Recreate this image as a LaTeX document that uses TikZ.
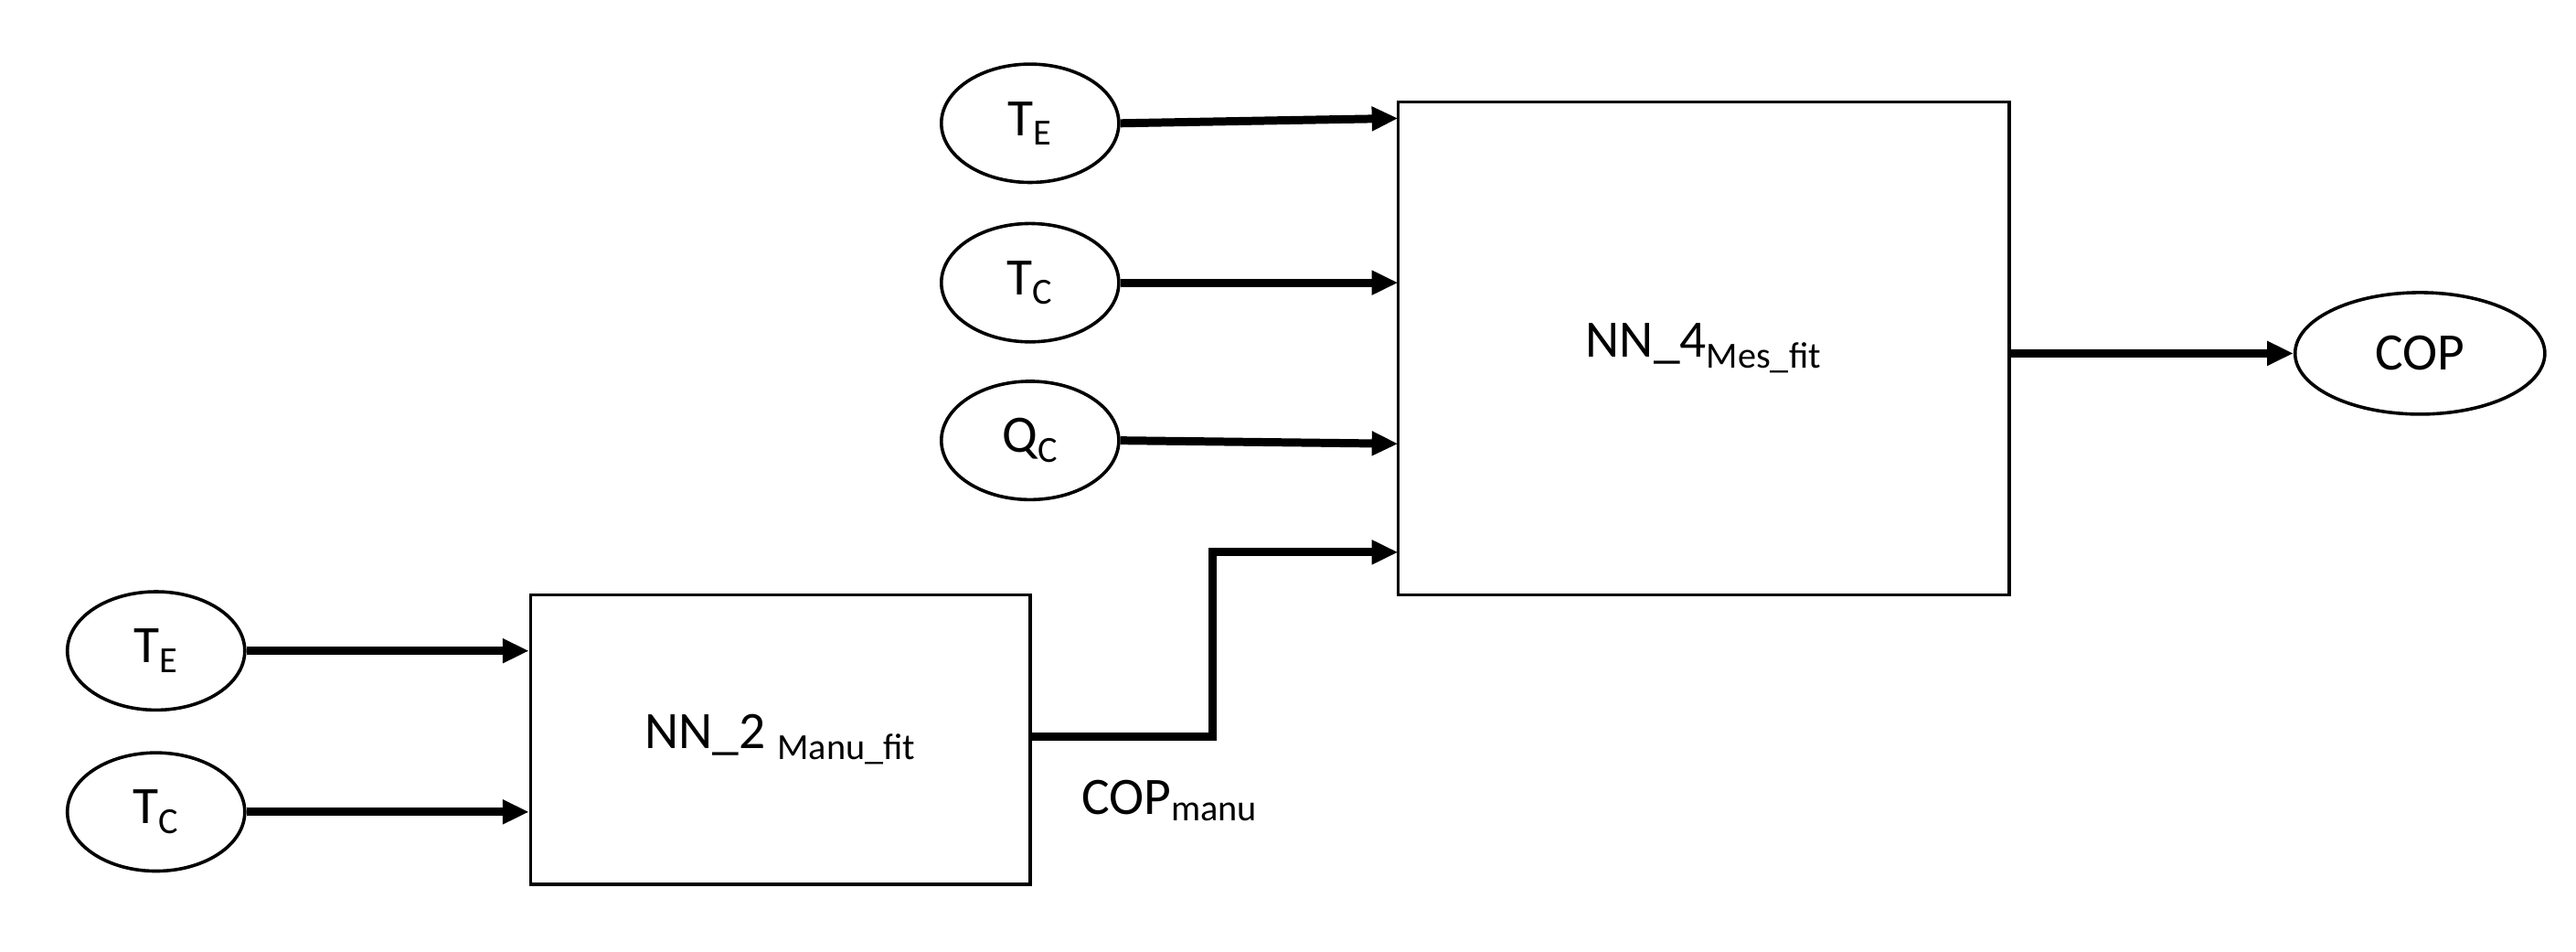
\documentclass[tikz,border=0pt]{standalone}
\usepackage{fontspec}
\setmainfont{Carlito}
\usetikzlibrary{arrows.meta, positioning, shapes.geometric}

\begin{document}
\begin{tikzpicture} [x=1pt, y=-1pt, font=\fontsize{32}{38}\selectfont,
	var/.style={ellipse, draw, line width=2pt, minimum width=108pt, minimum height=72pt, inner sep=0pt},
	block/.style={draw, line width=2pt},
	flow/.style={line width=5pt, -{Triangle[length=16pt,width=14pt]}}]
\useasboundingbox (0,0) rectangle (1568,579);

% blocks
\node[block, minimum width=372pt, minimum height=300pt] (nn_four) at (1037,212) {NN\_4\textsubscript{Mes\_fit}};
\node[block, minimum width=304pt, minimum height=176pt] (nn_two) at (475,450) {NN\_2 \textsubscript{Manu\_fit}};

% inputs
\node[var] (te_top) at (627,75) {T\textsubscript{E}};
\node[var] (tc_top) at (627,172) {T\textsubscript{C}};
\node[var] (qc_top) at (627,268) {Q\textsubscript{C}};
\node[var] (te_bot) at (95,396) {T\textsubscript{E}};
\node[var] (tc_bot) at (95,494) {T\textsubscript{C}};
\node[var, minimum width=152pt, minimum height=74pt] (cop) at (1473,215) {COP};

\coordinate (in_a) at (851,72);
\coordinate (in_b) at (851,172);
\coordinate (in_c) at (851,270);
\coordinate (in_d) at (851,336);
\coordinate (out_two) at (627,448);

\draw[flow] (te_top.east) -- (in_a);
\draw[flow] (tc_top.east) -- (in_b);
\draw[flow] (qc_top.east) -- (in_c);
\draw[flow] (te_bot.east) -- (te_bot.east -| nn_two.west);
\draw[flow] (tc_bot.east) -- (tc_bot.east -| nn_two.west);
\draw[flow] (out_two) -- (738,448) -- (738,336) -- (in_d);
\draw[flow] (nn_four.east |- cop.west) -- (cop.west);

\node (cop_manu) at (712,487) {COP\textsubscript{manu}};

\end{tikzpicture}
\end{document}
